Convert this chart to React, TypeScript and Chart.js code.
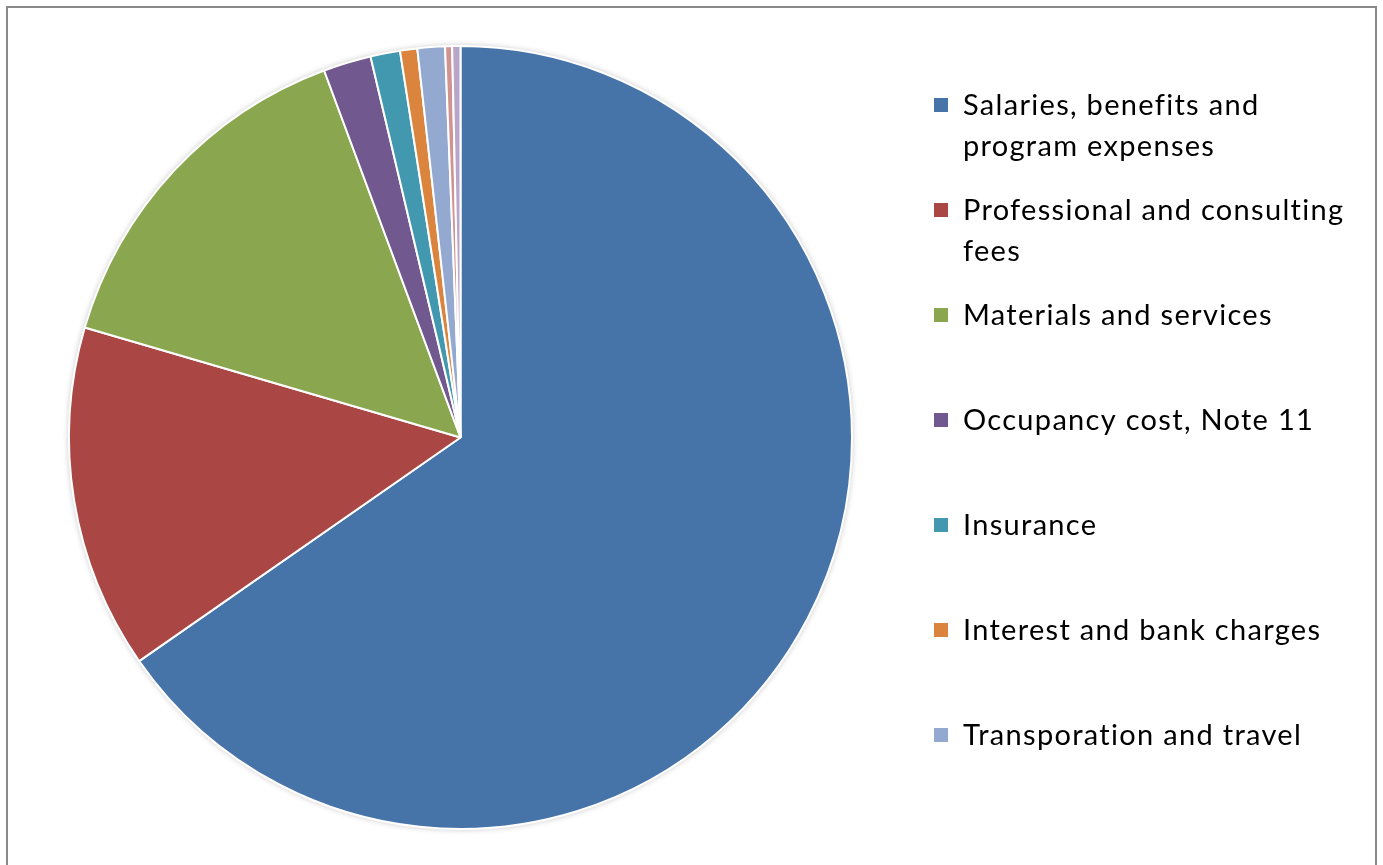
import React, { useEffect, useRef } from "react";
import { Chart, registerables } from "chart.js";

Chart.register(...registerables);

const categories = [
  "Salaries, benefits and program expenses",
  "Professional and consulting fees",
  "Materials and services",
  "Occupancy cost, Note 11",
  "Insurance",
  "Interest and bank charges",
  "Transporation and travel",
  "Other (a)",
  "Other (b)",
];

const legendLines: string[][] = [
  ["Salaries, benefits and", "program expenses"],
  ["Professional and consulting", "fees"],
  ["Materials and services"],
  ["Occupancy cost, Note 11"],
  ["Insurance"],
  ["Interest and bank charges"],
  ["Transporation and travel"],
];

const values = [65.3, 14.2, 14.8, 1.97, 1.22, 0.71, 1.13, 0.29, 0.34];

const colors = [
  "#4674A9",
  "#AA4644",
  "#8AA64E",
  "#71588F",
  "#4198AF",
  "#DB843D",
  "#93A9CF",
  "#D19392",
  "#B9A7C9",
];

const FONT = "Lato, 'Open Sans', sans-serif";

const shadowPlugin = {
  id: "pieShadow",
  beforeDatasetsDraw(chart: any) {
    const meta = chart.getDatasetMeta(0);
    const arc = meta.data[0];
    if (!arc) return;
    const { x, y, outerRadius } = arc.getProps(["x", "y", "outerRadius"], true);
    const ctx = chart.ctx;
    ctx.save();
    ctx.shadowColor = "rgba(0,0,0,0.28)";
    ctx.shadowBlur = 6;
    ctx.shadowOffsetX = 0;
    ctx.shadowOffsetY = 0;
    ctx.fillStyle = "#ffffff";
    ctx.beginPath();
    ctx.arc(x, y, outerRadius, 0, Math.PI * 2);
    ctx.fill();
    ctx.restore();
  },
};

const legendPlugin = {
  id: "customLegend",
  afterDraw(chart: any) {
    const ctx = chart.ctx;
    const ds = chart.data.datasets[0];
    ctx.save();
    ctx.font = `29px ${FONT}`;
    (ctx as any).letterSpacing = "1.3px";
    ctx.textBaseline = "alphabetic";
    ctx.textAlign = "left";
    const x0 = 934;
    const textX = 963;
    const firstBaseline = 115;
    const itemGap = 105;
    const lineGap = 41;
    legendLines.forEach((lines, i) => {
      const base = firstBaseline + i * itemGap;
      ctx.fillStyle = ds.backgroundColor[i];
      ctx.fillRect(x0, base - 17, 14, 14);
      ctx.fillStyle = "#000000";
      lines.forEach((ln, j) => {
        ctx.fillText(ln, textX, base + j * lineGap);
      });
    });
    ctx.restore();
  },
};

export default function App() {
  const canvasRef = useRef<HTMLCanvasElement | null>(null);

  useEffect(() => {
    if (!canvasRef.current) return;
    const chart = new Chart(canvasRef.current, {
      type: "pie",
      data: {
        labels: categories,
        datasets: [
          {
            data: values,
            backgroundColor: colors,
            borderColor: "#ffffff",
            borderWidth: 2,
          },
        ],
      },
      options: {
        responsive: false,
        animation: false,
        layout: { padding: { left: 68, top: 45, right: 530, bottom: 35 } },
        plugins: {
          legend: { display: false },
          tooltip: { enabled: false },
          title: { display: false },
        },
      },
      plugins: [shadowPlugin, legendPlugin],
    });
    return () => chart.destroy();
  }, []);

  return (
    <div
      style={{
        position: "absolute",
        left: 0,
        top: 0,
        width: 1383,
        height: 865,
        overflow: "hidden",
        background: "#ffffff",
      }}
    >
      <div
        style={{
          position: "absolute",
          left: 6,
          top: 6,
          width: 1367,
          height: 900,
          border: "2px solid #8a8a8a",
        }}
      />
      <canvas
        ref={canvasRef}
        width={1383}
        height={865}
        style={{ position: "absolute", left: 0, top: 0, width: 1383, height: 865 }}
      />
    </div>
  );
}
